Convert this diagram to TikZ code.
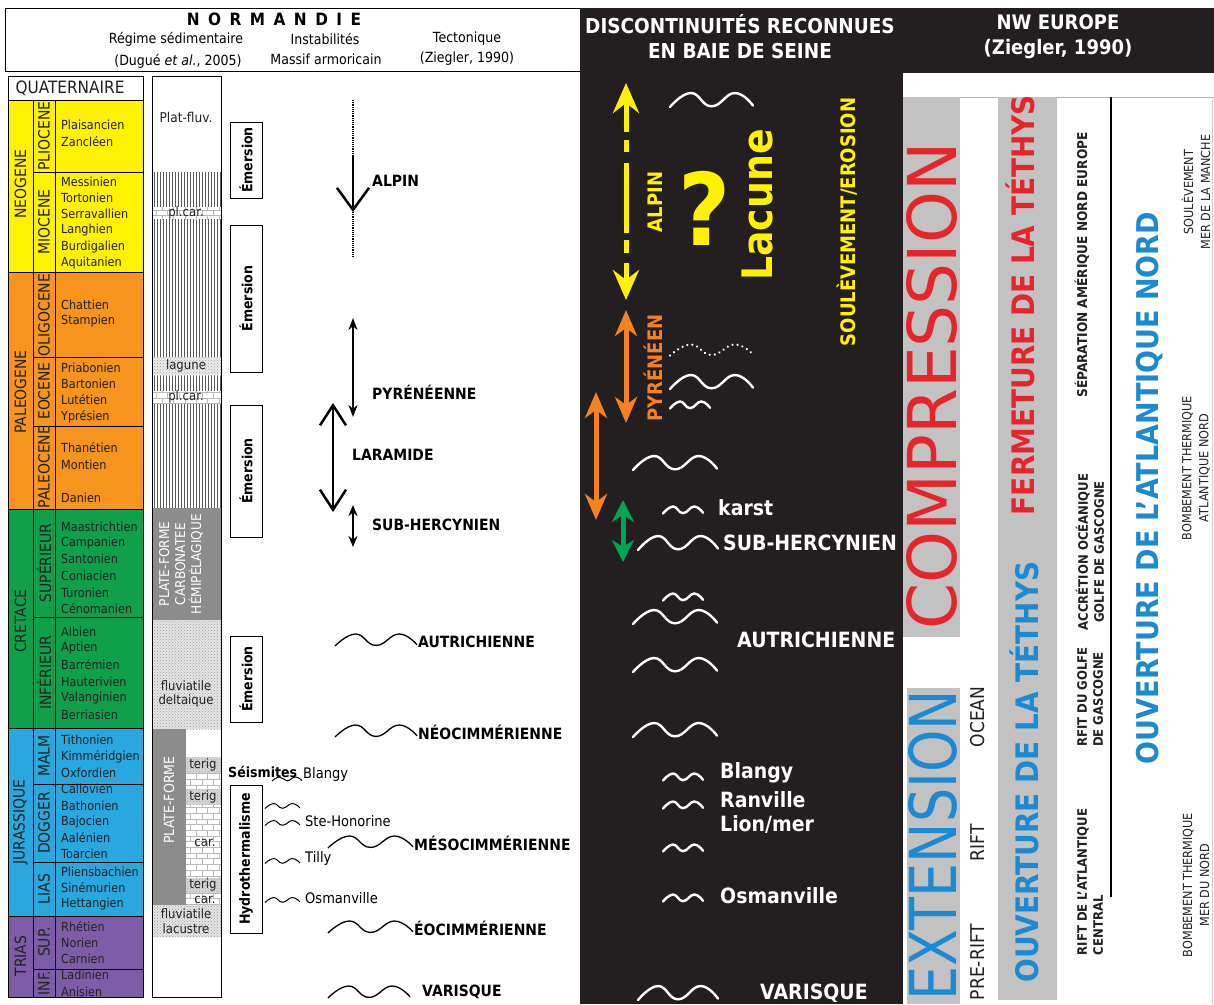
\documentclass[tikz,border=0pt]{standalone}
\usepackage{fontspec}
\setmainfont{DejaVu Sans}[FakeStretch=0.9]
\usepackage{graphicx}
\usetikzlibrary{arrows.meta,patterns}
\definecolor{neoY}{HTML}{FFF200}
\definecolor{paleoO}{HTML}{F7941D}
\definecolor{cretG}{HTML}{10A04A}
\definecolor{jurB}{HTML}{29A8E0}
\definecolor{triP}{HTML}{7E5CA7}
\definecolor{panel}{HTML}{231F20}
\definecolor{ylw}{HTML}{FFF200}
\definecolor{orA}{HTML}{F58220}
\definecolor{grA}{HTML}{00A651}
\definecolor{redC}{HTML}{E4262B}
\definecolor{bluE}{HTML}{1B8AD3}
\definecolor{barG}{HTML}{C2C2C2}
\definecolor{darkG}{HTML}{8C8C8C}
\definecolor{txt}{HTML}{222222}
\newcommand\fsz[1]{\fontsize{#1}{#1}\selectfont}
\newcommand\wv[5][black]{\draw[#1,shift={(#2,#3)},xscale=#4,yscale=#5] plot[smooth,tension=0.8] coordinates {(0,1) (0.25,-1) (0.5,0.9) (0.78,-1) (1,0.8)};}
\begin{document}
\begin{tikzpicture}[x=1pt,y=-1pt,
  stage/.style={anchor=west,inner sep=0pt,font=\fsz{12.5},text=txt},
  era/.style={rotate=90,inner sep=0pt,font=\fsz{15.5},text=txt},
  hdr/.style={inner sep=0pt,font=\fsz{14},text=black},
  coltxt/.style={inner sep=0pt,font=\fsz{13},text=txt},
  emer/.style={draw=black,line width=0.8pt,rotate=90,inner sep=0pt,minimum height=32pt,font=\bfseries\fsz{14},fill=white},
  tect/.style={anchor=west,inner sep=0pt,font=\bfseries\fsz{15.5}},
  loc/.style={anchor=west,inner sep=0pt,font=\fsz{14.5}},
  wlab/.style={anchor=west,inner sep=0pt,font=\bfseries\fsz{21},text=white},
  stip/.style={pattern=crosshatch dots,pattern color=gray!75},
  brick/.style={pattern=bricks,pattern color=gray!55},
  bwave/.style={black,line width=1.3pt},
  swave/.style={black,line width=1pt},
  wwave/.style={white,line width=2.4pt,line cap=round},
  rtxt/.style={rotate=90,anchor=base,inner sep=0pt},
  yhead/.style={ylw,line width=5pt,-{Stealth[length=30pt,width=26pt,inset=10pt]}},
  ohead/.style={orA,line width=5pt,{Stealth[length=26pt,width=22pt,inset=8pt]}-{Stealth[length=26pt,width=22pt,inset=8pt]}},
]
\useasboundingbox (0,0) rectangle (1214,1004);
\fill[white] (0,0) rectangle (1214,1004);

% ---------- header NORMANDIE
\draw[line width=1pt] (5,8) rectangle (580,71);
\node[font=\bfseries\fsz{17}] (norm) at (274,19) {\addfontfeature{LetterSpace=50}NORMANDIE};
\node[hdr] (reg) at (176,39) {Régime sédimentaire};
\node[hdr] (ins) at (325,39) {Instabilités};
\node[hdr] (tec) at (467,39) {Tectonique};
\node[hdr] (dug) at (178,61) {(Dugué \textit{et al.}, 2005)};
\node[hdr] (mas) at (326,59) {Massif armoricain};
\node[hdr] (zie) at (467,59) {(Ziegler, 1990)};

% ---------- stratigraphic column
\fill[neoY] (8,100) rectangle (143,272);
\fill[paleoO] (8,272) rectangle (143,509);
\fill[cretG] (8,509) rectangle (143,728);
\fill[jurB] (8,728) rectangle (143,916);
\fill[triP] (8,916) rectangle (143,997);
\draw[line width=0.9pt] (8,76) rectangle (143,997);
\draw[line width=0.8pt] (8,100) -- (143,100);
\draw[line width=0.6pt] (33,100) -- (33,997) (55,100) -- (55,997);
\foreach \yy in {272,509,728,916} \draw[line width=0.6pt] (8,\yy) -- (143,\yy);
\foreach \yy in {172,357,426,617,784,862,969} \draw[line width=0.6pt] (33,\yy) -- (143,\yy);
\node[font=\fsz{17},text=txt] (quat) at (70,88) {QUATERNAIRE};
\node[era] (e1) at (20.5,184) {NEOGENE};
\node[era] (e2) at (20.5,392) {PALEOGENE};
\node[era] (e3) at (20.5,621) {CRETACE};
\node[era] (e4) at (20.5,822) {JURASSIQUE};
\node[era] (e5) at (20.5,956) {TRIAS};
\node[era] (p1) at (44,136) {PLIOCENE};
\node[era] (p2) at (44,222) {MIOCENE};
\node[era] (p3) at (44,315) {OLIGOCENE};
\node[era] (p4) at (44,391) {EOCENE};
\node[era] (p5) at (44,467) {PALEOCENE};
\node[era] (p6) at (44,563) {SUPÉRIEUR};
\node[era] (p7) at (44,673) {INFÉRIEUR};
\node[era] (p8) at (44,756) {MALM};
\node[era] (p9) at (44,823) {DOGGER};
\node[era] (p10) at (44,889) {LIAS};
\node[era] (p11) at (44,942) {SUP.};
\node[era] (p12) at (44,983) {INF.};
\foreach \n/\yy [count=\i] in {Plaisancien/125,Zancléen/142,Messinien/182,Tortonien/198,Serravallien/214,Langhien/230,Burdigalien/247,Aquitanien/263,Chattien/305,Stampien/321,Priabonien/368,Bartonien/384,Lutétien/400,Yprésien/417,Thanétien/448,Montien/465,Danien/498,Maastrichtien/527,Campanien/543,Santonien/559,Coniacien/576,Turonien/593,Cénomanien/609,Albien/632,Aptien/648,Barrémien/665,Hauterivien/682,Valanginien/698,Berriasien/715,Tithonien/740,Kimméridgien/757,Oxfordien/773,Callovien/789,Bathonien/806,Bajocien/822,Aalénien/838,Toarcien/854,Pliensbachien/872,Sinémurien/888,Hettangien/904,Rhétien/927,Norien/943,Carnien/959,Ladinien/975,Anisien/992}
  \node[stage] (st\i) at (61,\yy) {\n};

% ---------- column 2 : régime sédimentaire
\foreach \xx in {154,157,...,220} \draw[black!65,line width=0.5pt] (\xx,172) -- (\xx,508);
\fill[white] (152,207) rectangle (221,219); \fill[brick] (152,207) rectangle (221,219);
\fill[gray!15] (152,357) rectangle (221,375); \fill[stip] (152,357) rectangle (221,375);
\fill[white] (152,391) rectangle (221,403); \fill[brick] (152,391) rectangle (221,403);
\fill[darkG] (152,508) rectangle (221,620);
\fill[gray!20] (152,620) rectangle (221,729); \fill[stip] (152,620) rectangle (221,729);
\fill[darkG] (152,729) rectangle (186,905);
\fill[gray!30] (186,757) rectangle (221,773); \fill[stip] (186,757) rectangle (221,773);
\fill[white] (186,773) rectangle (221,789); \fill[brick] (186,773) rectangle (221,789);
\fill[gray!30] (186,789) rectangle (221,805); \fill[stip] (186,789) rectangle (221,805);
\fill[white] (186,805) rectangle (221,878); \fill[brick] (186,805) rectangle (221,878);
\fill[gray!30] (186,878) rectangle (221,893); \fill[stip] (186,878) rectangle (221,893);
\fill[white] (186,893) rectangle (221,905); \fill[brick] (186,893) rectangle (221,905);
\fill[gray!20] (152,905) rectangle (221,937); \fill[stip] (152,905) rectangle (221,937);
\draw[line width=0.9pt] (152,76) rectangle (221,997);
\node[coltxt,font=\fsz{13.5}] (c1) at (186,117) {Plat-fluv.};
\node[coltxt] (c2) at (186,213) {pl.car.};
\node[coltxt] (c3) at (186,366) {lagune};
\node[coltxt] (c4) at (186,397) {pl.car.};
\node[coltxt,rotate=90,align=center,text=white,font=\fontsize{13.5}{16}\selectfont] (c5) at (181,564) {PLATE-FORME\\CARBONATEE\\HÉMIPÉLAGIQUE};
\node[coltxt] (c6) at (186,686) {fluviatile};
\node[coltxt] (c7) at (186,701) {deltaique};
\node[coltxt,rotate=90,text=white,font=\fsz{14}] (c8) at (169,800) {PLATE-FORME};
\node[coltxt] (c9) at (203,765) {terig};
\node[coltxt] (c10) at (203,797) {terig};
\node[coltxt] (c11) at (205,843) {car.};
\node[coltxt] (c12) at (203,885) {terig};
\node[coltxt] (c13) at (205,900) {car.};
\node[coltxt] (c14) at (186,914) {fluviatile};
\node[coltxt] (c15) at (186,929) {lacustre};

% ---------- column 3 : instabilités
\node[emer,minimum width=76pt] (em1) at (246,160) {Émersion};
\node[emer,minimum width=147pt] (em2) at (246,298.5) {Émersion};
\node[emer,minimum width=132pt] (em3) at (246,471) {Émersion};
\node[emer,minimum width=86pt] (em4) at (246,679) {Émersion};
\node[emer,minimum width=148pt] (hyd) at (246,859) {Hydrothermalisme};
\node[tect,font=\bfseries\fsz{14}] (seis) at (228,772) {Séismites};
\wv[swave]{272}{779}{30}{2}
\node[loc] (bl) at (303,774) {Blangy};
\wv[swave]{265}{806}{35}{2.5}
\wv[swave]{265}{823}{35}{2.5}
\node[loc] (sh) at (305,821) {Ste-Honorine};
\wv[swave]{265}{861}{35}{2.5}
\node[loc] (ti) at (305,858) {Tilly};
\wv[swave]{265}{900}{35}{2.5}
\node[loc] (os) at (305,898) {Osmanville};

% ---------- tectonique
\coordinate (alT) at (353,100); \coordinate (alA) at (353,155);
\coordinate (alH) at (353,212); \coordinate (alB) at (353,258);
\draw[densely dotted,line width=1.2pt] (alT) -- (alA);
\draw[line width=2.5pt,-{Straight Barb[length=22pt,width=32pt]}] (alA) -- (alH);
\draw[densely dotted,line width=1.2pt] (alH) -- (alB);
\node[tect] (tal) at (372,181) {ALPIN};
\coordinate (pyT) at (353,318); \coordinate (pyB) at (353,417);
\draw[line width=2.5pt,{Stealth[length=12pt,width=9pt]}-{Stealth[length=12pt,width=9pt]}] (pyT) -- (pyB);
\node[tect] (tpy) at (372,392) {PYRÉNÉENNE};
\coordinate (laT) at (333,403); \coordinate (laB) at (333,512);
\draw[line width=2.5pt,{Straight Barb[length=20pt,width=26pt]}-{Straight Barb[length=20pt,width=26pt]}] (laT) -- (laB);
\node[tect] (tla) at (352,455) {LARAMIDE};
\coordinate (shT) at (353,505); \coordinate (shB) at (353,547);
\draw[line width=2.5pt,{Stealth[length=11pt,width=9pt]}-{Stealth[length=11pt,width=9pt]}] (shT) -- (shB);
\node[tect] (tsh) at (372,525) {SUB-HERCYNIEN};
\wv[bwave]{335}{640}{82}{6}
\node[tect] (tau) at (418,642) {AUTRICHIENNE};
\wv[bwave]{335}{731}{82}{6}
\node[tect] (tne) at (418,732) {NÉOCIMMÉRIENNE};
\wv[bwave]{328}{842}{85}{6}
\node[tect] (tme) at (414,843) {MÉSOCIMMÉRIENNE};
\wv[bwave]{328}{927}{85}{6}
\node[tect] (teo) at (414,928) {ÉOCIMMÉRIENNE};
\wv[bwave]{328}{992}{82}{6}
\node[tect] (tva) at (422,992) {VARISQUE};

% ---------- black panel
\fill[panel] (580,8) rectangle (903,1004);
\node[font=\fontsize{20.5}{25}\selectfont\bfseries,text=white,align=center] (disc) at (740,37) {DISCONTINUITÉS RECONNUES\\EN BAIE DE SEINE};
\coordinate (yT) at (626,83); \coordinate (yB) at (626,300);
\coordinate (ysT) at (626,113); \coordinate (ysB) at (626,277);
\draw[ylw,line width=5pt,dash pattern=on 19pt off 8pt on 12pt off 11pt on 70pt off 7pt on 13pt off 10pt on 20pt] (ysT) -- (ysB);
\draw[yhead] (ysT) -- (yT);
\draw[yhead] (ysB) -- (yB);
\coordinate (oaT) at (626,310); \coordinate (oaB) at (626,423);
\draw[ohead] (oaT) -- (oaB);
\coordinate (obT) at (596,392); \coordinate (obB) at (596,520);
\draw[ohead] (obT) -- (obB);
\coordinate (gT) at (623,500); \coordinate (gB) at (623,562);
\draw[grA,line width=5pt,{Stealth[length=22pt,width=22pt,inset=7pt]}-{Stealth[length=22pt,width=22pt,inset=7pt]}] (gT) -- (gB);
\node[rtxt,text=ylw,font=\bfseries\fsz{20}] (yal) at (662,202) {ALPIN};
\node[text=ylw,font=\bfseries\fsz{100},inner sep=0pt] (qm) at (705,208) {?};
\node[rtxt,text=ylw,font=\bfseries\fsz{42}] (lac) at (772,205) {Lacune};
\node[rtxt,text=ylw,font=\bfseries\fsz{20}] (sou) at (855,222) {SOULÈVEMENT/EROSION};
\node[rtxt,text=orA,font=\bfseries\fsz{20}] (opy) at (662,368) {PYRÉNÉEN};
\wv[wwave]{670}{100}{83}{7}
\wv[wwave,dash pattern=on 0.1pt off 5pt]{670}{350}{83}{5.5}
\wv[wwave]{670}{382}{83}{7}
\wv[wwave]{670}{405}{40}{3.5}
\wv[wwave]{633}{463}{84}{7}
\wv[wwave]{663}{510}{40}{3.5}
\node[wlab] (wk) at (718,508) {karst};
\wv[wwave]{638}{543}{80}{7}
\node[wlab] (wsh) at (723,543) {SUB-HERCYNIEN};
\wv[wwave]{663}{597}{40}{3.5}
\wv[wwave]{633}{617}{84}{7}
\node[wlab] (wau) at (737,640) {AUTRICHIENNE};
\wv[wwave]{633}{665}{84}{7}
\wv[wwave]{633}{730}{84}{7}
\wv[wwave]{663}{777}{40}{3.5}
\node[wlab] (wbl) at (720,773) {Blangy};
\wv[wwave]{663}{805}{40}{3.5}
\node[wlab] (wra) at (720,800) {Ranville};
\node[wlab] (wli) at (720,824) {Lion/mer};
\wv[wwave]{663}{848}{40}{3.5}
\wv[wwave]{663}{898}{40}{3.5}
\node[wlab] (wos) at (720,896) {Osmanville};
\wv[wwave]{638}{993}{80}{7}
\node[wlab] (wva) at (760,993) {VARISQUE};

% ---------- NW Europe
\fill[panel] (903,8) rectangle (1214,73);
\node[font=\fontsize{20}{25}\selectfont\bfseries,text=white,align=center] (nwe) at (1058,37) {NW EUROPE\\(Ziegler, 1990)};
\draw[gray!60,line width=0.6pt] (903,97) -- (1214,97);
\draw[gray!40,line width=0.6pt] (1212,97) -- (1212,1004);
\fill[barG] (903,97) rectangle (960,637);
\fill[barG] (907,688) rectangle (960,1004);
\fill[barG] (998,97) rectangle (1057,1000);
\draw[line width=1.1pt] (1111,97) -- (1111,897);
\node[rtxt,text=redC] (comp) at (956,386) {\resizebox{487pt}{50pt}{COMPRESSION}};
\node[rtxt,text=bluE] (ext) at (956,845) {\resizebox{310pt}{48pt}{EXTENSION}};
\node[rtxt,font=\fsz{19},text=txt] (pre) at (984,962) {PRE-RIFT};
\node[rtxt,font=\fsz{19},text=txt] (rif) at (984,843) {RIFT};
\node[rtxt,font=\fsz{19},text=txt] (oce) at (984,717) {OCEAN};
\node[rtxt,text=redC,font=\bfseries\fsz{31}] (fer) at (1034,305) {FERMETURE DE LA TÉTHYS};
\node[rtxt,text=bluE,font=\bfseries\fsz{31}] (ouv) at (1038,772) {OUVERTURE DE LA TÉTHYS};
\node[rtxt,text=bluE,font=\bfseries\fsz{30}] (ouva) at (1158,488) {OUVERTURE DE L'ATLANTIQUE NORD};
\node[rtxt,text=txt,font=\bfseries\fsz{13.5}] (sep) at (1087,265) {SÉPARATION AMÉRIQUE NORD EUROPE};
\node[rotate=90,align=center,inner sep=0pt,text=txt,font=\bfseries\fontsize{13}{16}\selectfont] (acc) at (1090,552) {ACCRÉTION OCÉANIQUE\\GOLFE DE GASCOGNE};
\node[rotate=90,align=left,inner sep=0pt,text=txt,font=\bfseries\fontsize{13}{16}\selectfont] (rfg) at (1090,697) {RFIT DU GOLFE\\DE GASCOGNE};
\node[rotate=90,align=left,inner sep=0pt,text=txt,font=\bfseries\fontsize{13}{16}\selectfont] (rac) at (1090,882) {RIFT DE L'ATLANTIQUE\\CENTRAL};
\node[rotate=90,align=center,inner sep=0pt,text=txt,font=\fontsize{12.5}{17}\selectfont] (sme) at (1196,192) {SOULÈVEMENT\\MER DE LA MANCHE};
\node[rotate=90,align=center,inner sep=0pt,text=txt,font=\fontsize{12.5}{17}\selectfont] (bta) at (1196,468) {BOMBEMENT THERMIQUE\\ATLANTIQUE NORD};
\node[rotate=90,align=center,inner sep=0pt,text=txt,font=\fontsize{12.5}{17}\selectfont] (btm) at (1196,885) {BOMBEMENT THERMIQUE\\MER DU NORD};
\end{tikzpicture}
\end{document}
